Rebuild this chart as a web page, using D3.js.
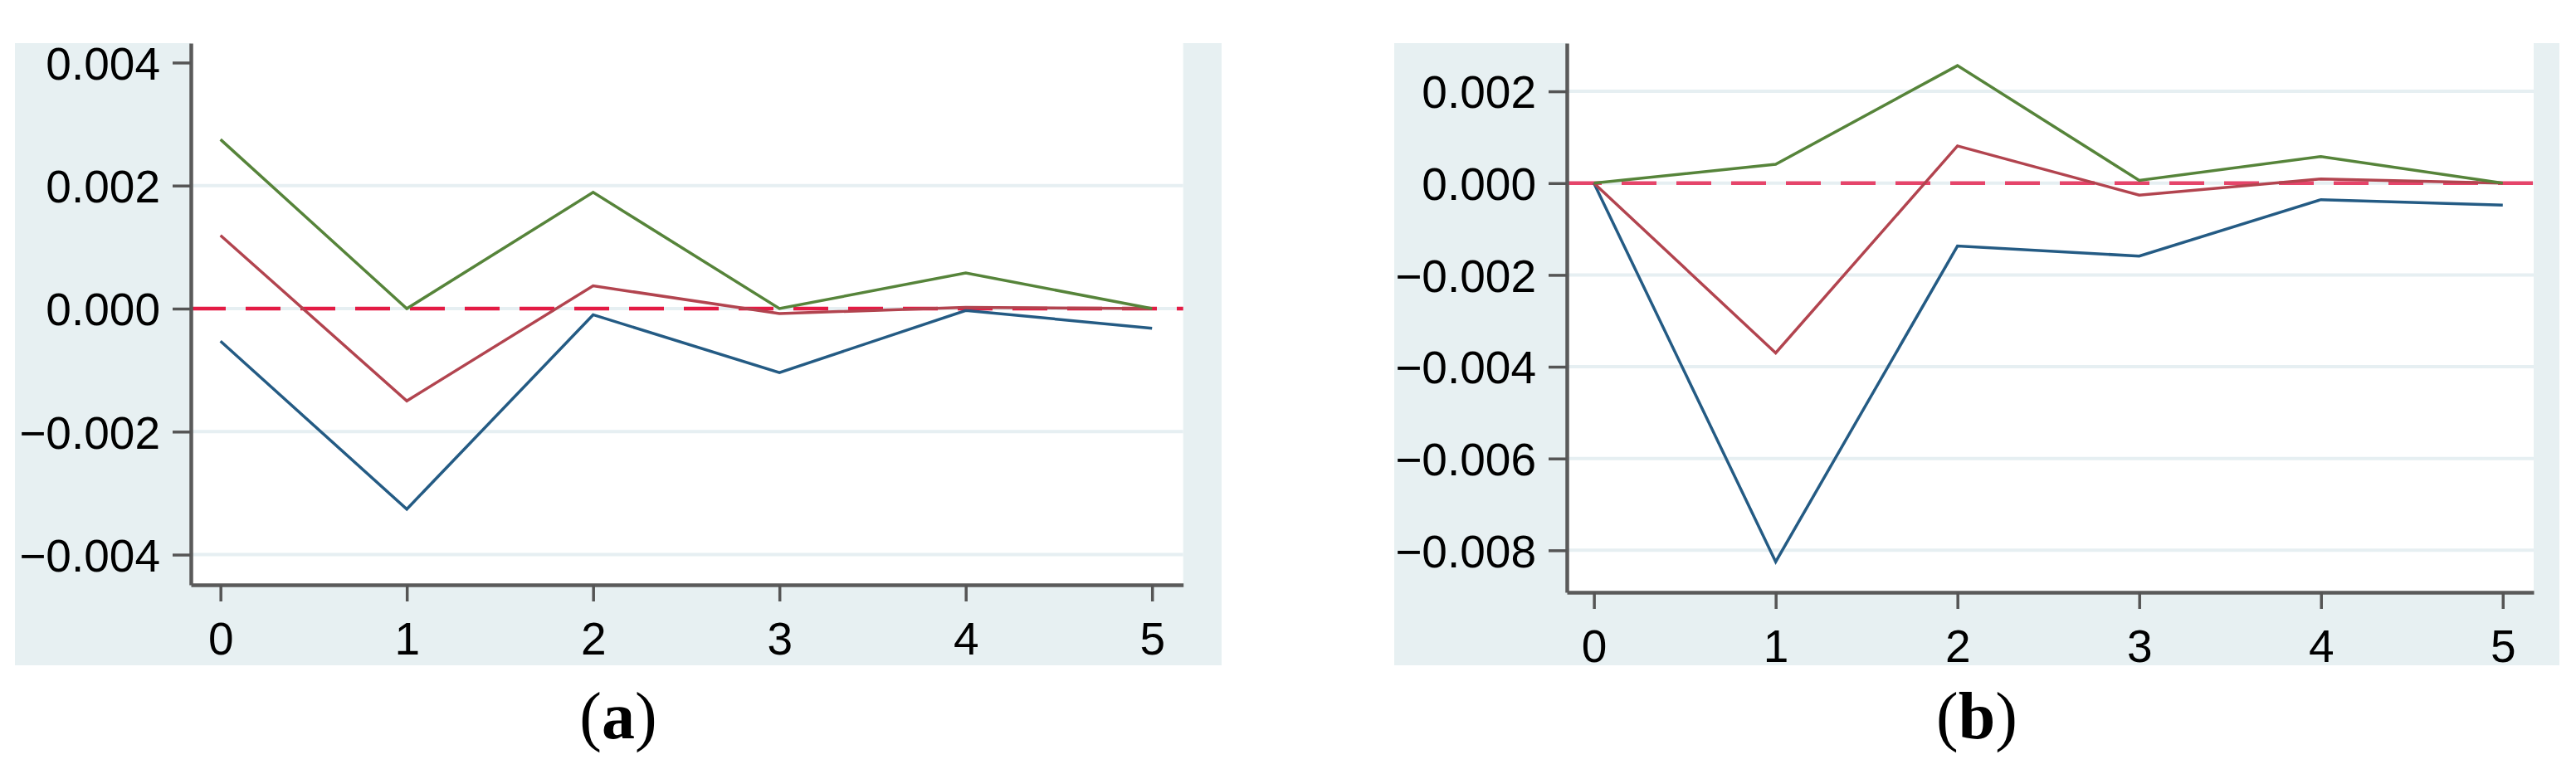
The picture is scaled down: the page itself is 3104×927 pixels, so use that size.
<!DOCTYPE html>
<html>
<head>
<meta charset="utf-8">
<script src="https://cdn.jsdelivr.net/npm/d3@7"></script>
<style>
  html, body { margin: 0; padding: 0; background: #ffffff; }
  svg { display: block; }
  .tick text { font-family: "Liberation Sans", Arial, sans-serif; font-size: 55px; fill: #000; }
</style>
</head>
<body>
<svg id="chart" width="3104" height="927"></svg>
<script>
// ---- data ----
const periods = [0, 1, 2, 3, 4, 5];
const xTickLabels = ["0", "1", "2", "3", "4", "5"];

// Panel (a)
const aLower = [-0.00053, -0.00326, -0.00010, -0.00104, -0.00003, -0.00032];
const aMid   = [ 0.00119, -0.00150,  0.00037, -0.00008,  0.00002,  0.00000];
const aUpper = [ 0.00275,  0.00000,  0.00189,  0.00000,  0.00058,  0.00000];
const aYTicks = [-0.004, -0.002, 0.000, 0.002, 0.004];
const aGridTicks = [-0.004, -0.002, 0.000, 0.002];

// Panel (b)
const bLower = [0.00000, -0.00825, -0.00137, -0.00159, -0.00036, -0.00048];
const bMid   = [0.00000, -0.00370,  0.00081, -0.00026,  0.00009,  0.00000];
const bUpper = [0.00000,  0.00041,  0.00256,  0.00006,  0.00058,  0.00000];
const bYTicks = [-0.008, -0.006, -0.004, -0.002, 0.000, 0.002];
const bGridTicks = [-0.008, -0.006, -0.004, -0.002, 0.000, 0.002];

const captions = ["a", "b"];

// ---- drawing ----
const svg = d3.select("#chart");
const fmt = d3.format(".3f");

const colors = { lower: "#245b84", mid: "#b2444f", upper: "#56843a" };

function panel(cfg) {
  const g = svg.append("g");
  // outer background
  g.append("rect")
    .attr("x", cfg.bg[0]).attr("y", cfg.bg[1])
    .attr("width", cfg.bg[2] - cfg.bg[0]).attr("height", cfg.bg[3] - cfg.bg[1])
    .attr("fill", "#e7f0f2");

  const x = d3.scaleLinear().domain(cfg.xDomain).range([cfg.plot[0], cfg.plot[2]]);
  const y = d3.scaleLinear().domain(cfg.yDomain).range([cfg.plot[3], cfg.plot[1]]);

  // plot area
  g.append("rect")
    .attr("x", cfg.plot[0]).attr("y", cfg.plot[1])
    .attr("width", cfg.plot[2] - cfg.plot[0]).attr("height", cfg.plot[3] - cfg.plot[1])
    .attr("fill", "#ffffff");

  // gridlines
  g.append("g").selectAll("line").data(cfg.grid).join("line")
    .attr("x1", cfg.plot[0]).attr("x2", cfg.plot[2])
    .attr("y1", d => y(d)).attr("y2", d => y(d))
    .attr("stroke", "#e6eff2").attr("stroke-width", 4);

  // zero reference dashed line
  g.append("line")
    .attr("x1", cfg.plot[0]).attr("x2", cfg.plot[2])
    .attr("y1", y(0)).attr("y2", y(0))
    .attr("stroke", cfg.dashColor).attr("stroke-width", 4.5)
    .attr("stroke-dasharray", "42,24");

  const line = d3.line().x((d, i) => x(periods[i])).y(d => y(d));
  [[cfg.lower, colors.lower], [cfg.mid, colors.mid], [cfg.upper, colors.upper]].forEach(([vals, c]) => {
    g.append("path").datum(vals)
      .attr("d", line)
      .attr("fill", "none")
      .attr("stroke", c)
      .attr("stroke-width", 3.5)
      .attr("stroke-linejoin", "miter");
  });

  // y axis
  const ya = g.append("g")
    .attr("transform", `translate(${cfg.plot[0]},0)`)
    .call(d3.axisLeft(y).tickValues(cfg.yTicks).tickFormat(fmt)
      .tickSize(22).tickSizeOuter(0).tickPadding(15));
  ya.select(".domain").attr("stroke", "#5a5a5a").attr("stroke-width", 4.5);
  ya.selectAll(".tick line").attr("stroke", "#555").attr("stroke-width", 3.5);
  ya.selectAll(".tick text").attr("dy", "0.36em");

  // x axis
  const xa = g.append("g")
    .attr("transform", `translate(0,${cfg.plot[3]})`)
    .call(d3.axisBottom(x).tickValues(periods).tickFormat((d, i) => xTickLabels[i])
      .tickSize(20).tickSizeOuter(0).tickPadding(25));
  xa.select(".domain").attr("stroke", "#5a5a5a").attr("stroke-width", 4.5);
  xa.selectAll(".tick line").attr("stroke", "#555").attr("stroke-width", 3.5);

  // caption
  const t = svg.append("text")
    .attr("x", (cfg.bg[0] + cfg.bg[2]) / 2)
    .attr("y", 890)
    .attr("text-anchor", "middle")
    .attr("font-family", "\"Liberation Serif\", \"Times New Roman\", serif")
    .attr("font-size", 80)
    .attr("fill", "#000");
  t.append("tspan").text("(");
  t.append("tspan").attr("font-weight", "bold").text(cfg.caption);
  t.append("tspan").text(")");
}

panel({
  bg: [18, 52, 1472, 802],
  plot: [230, 52, 1425.7, 705],
  xDomain: [-0.159, 5.167],
  yDomain: [-0.004491, 0.004316],
  yTicks: aYTicks, grid: aGridTicks,
  lower: aLower, mid: aMid, upper: aUpper,
  dashColor: "#e31b44",
  caption: captions[0]
});

panel({
  bg: [1680, 52, 3084, 802],
  plot: [1888, 52, 3053, 714],
  xDomain: [-0.149, 5.170],
  yDomain: [-0.008915, 0.00305],
  yTicks: bYTicks, grid: bGridTicks,
  lower: bLower, mid: bMid, upper: bUpper,
  dashColor: "#e5456a",
  caption: captions[1]
});
</script>
</body>
</html>
